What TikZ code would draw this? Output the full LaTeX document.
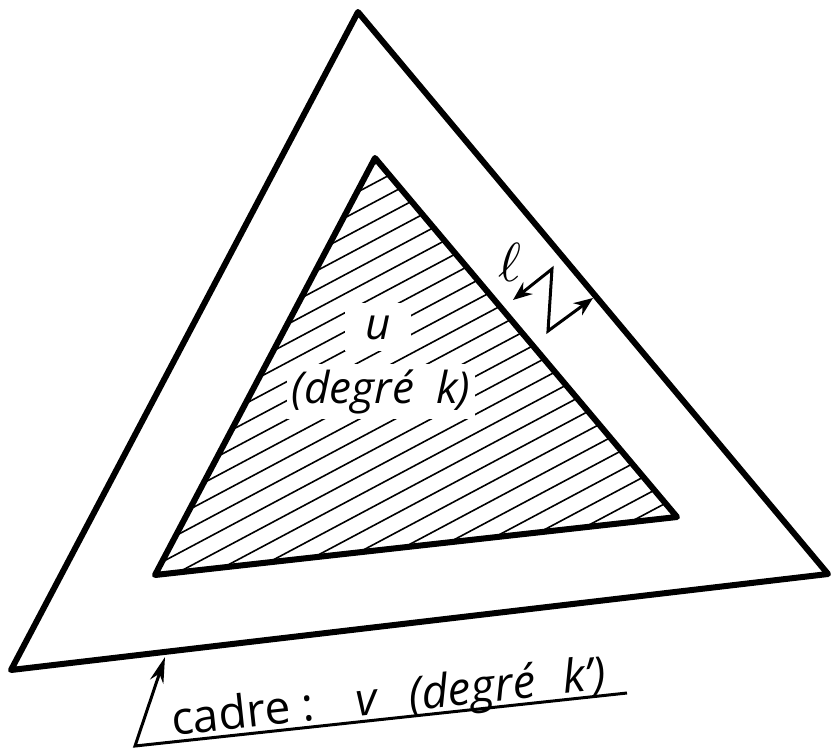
\documentclass[tikz,border=0pt]{standalone}
\usepackage{fontspec}
\setmainfont{Open Sans}
\usetikzlibrary{arrows.meta}
\begin{document}
\begin{tikzpicture}[x=1pt,y=-1pt,
  frame/.style={line width=6pt,line join=round},
  hatch/.style={line width=1.6pt},
  pointer/.style={line width=3pt,line join=miter},
  lbl/.style={font=\fontsize{44}{50}\selectfont\itshape, inner sep=0pt},
]
\useasboundingbox (0,0) rectangle (832,750);
\coordinate (A) at (358,12);
\coordinate (B) at (828,574);
\coordinate (C) at (11,670);
\coordinate (a) at (375,158);
\coordinate (b) at (677,517);
\coordinate (c) at (155,575);
\begin{scope}
  \clip (a)--(b)--(c)--cycle;
  \foreach \k in {0,...,28}
    \draw[hatch] (100,{310+19*\k}) -- (720,{310+19*\k-329.7});
\end{scope}
\node[lbl, fill=white, inner xsep=20pt, inner ysep=12pt, anchor=base] (u) at (378,339) {u};
\node[lbl, fill=white, inner sep=5pt, anchor=base] (deg) at (381,403) {(degré\hspace{0.5em}k)};
\draw[frame] (A)--(B)--(C)--cycle;
\draw[frame] (a)--(b)--(c)--cycle;
% width marker l
\coordinate (z1) at (552,269);
\coordinate (z2) at (548,331);
\coordinate (p) at (513,300);
\coordinate (q) at (593,298);
\draw[pointer, {Stealth[length=19pt,width=15pt]}-{Stealth[length=19pt,width=15pt]}] (p) -- (z1) -- (z2) -- (q);
\node[scale=5.5, inner sep=0pt] (ell) at (510,262) {$\ell$};
% callout
\coordinate (corner) at (135,746);
\coordinate (arrowtip) at (165,657);
\coordinate (uend) at (627,693);
\draw[pointer, -{Stealth[length=26pt,width=14pt]}] (uend) -- (corner) -- (arrowtip);
\node[font=\fontsize{46}{50}\selectfont, anchor=base west, rotate=6.15, inner sep=0pt] (cad) at (173,736) {cadre :\hspace{0.9em}\textit{v\hspace{0.7em}(degré\hspace{0.6em}k’)}};
\end{tikzpicture}
\end{document}
